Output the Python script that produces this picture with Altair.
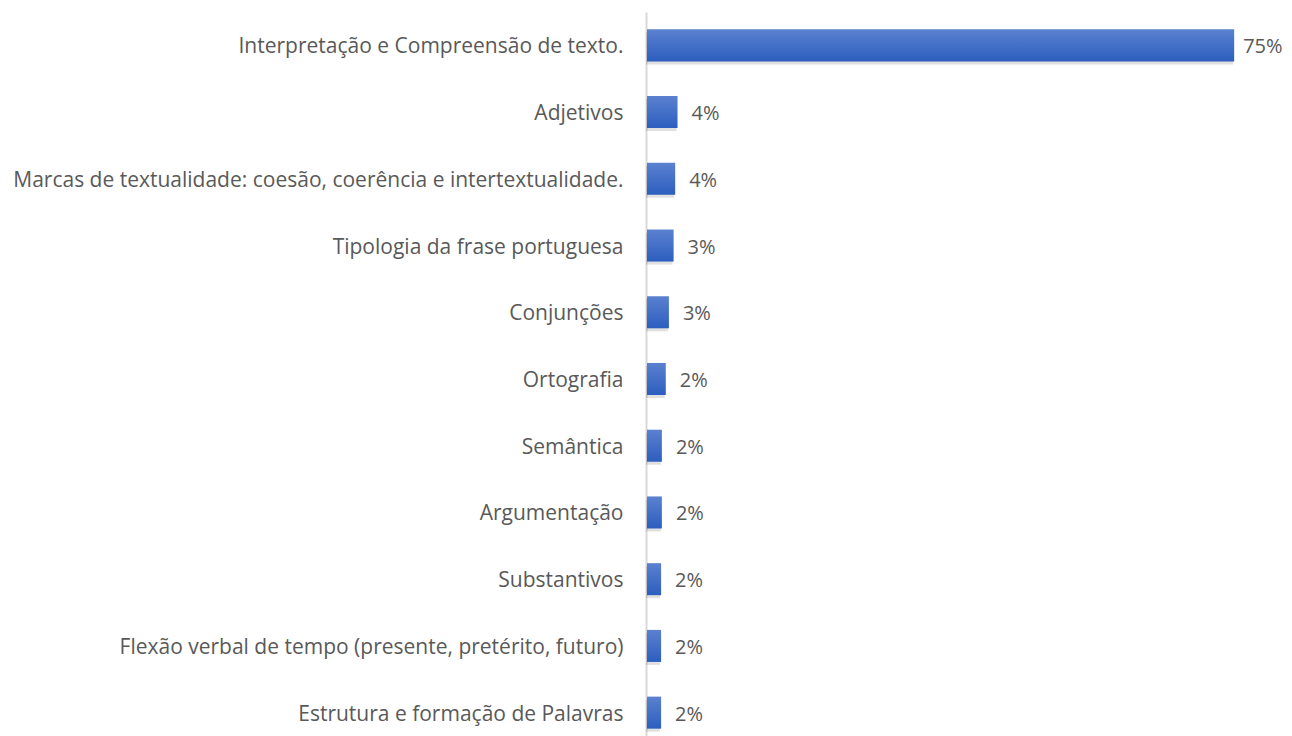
import altair as alt
import pandas as pd

categories = [
    "Interpretação e Compreensão de texto.",
    "Adjetivos",
    "Marcas de textualidade: coesão, coerência e intertextualidade.",
    "Tipologia da frase portuguesa",
    "Conjunções",
    "Ortografia",
    "Semântica",
    "Argumentação",
    "Substantivos",
    "Flexão verbal de tempo (presente, pretérito, futuro)",
    "Estrutura e formação de Palavras",
]
values = [75.0, 3.9, 3.6, 3.4, 2.8, 2.4, 1.9, 1.9, 1.8, 1.8, 1.8]
labels = ["75%", "4%", "4%", "3%", "3%", "2%", "2%", "2%", "2%", "2%", "2%"]

df = pd.DataFrame({"cat": categories, "val": values, "lab": labels})

FONT = "Open Sans"
TXT = "#595959"

y_scale = alt.Scale(range=[0, 734], paddingInner=0.52, paddingOuter=0.26)
y_enc = alt.Y(
    "cat:N",
    sort=categories,
    title=None,
    scale=y_scale,
    axis=alt.Axis(
        ticks=False,
        domainColor="#d9d9d9",
        domainWidth=2,
        labelFont=FONT,
        labelFontSize=21,
        labelColor=TXT,
        labelPadding=23,
        labelLimit=700,
        labelOffset=2,
    ),
)
x_enc = alt.X("val:Q", scale=alt.Scale(domain=[0, 76], nice=False), axis=None)

base = alt.Chart(df)

shadow = base.mark_bar(color="#000000", opacity=0.12, yOffset=3, x2Offset=2).encode(
    x=x_enc, y=y_enc
)

bars = base.mark_bar(
    color=alt.Gradient(
        gradient="linear",
        stops=[
            alt.GradientStop(color="#5b81d0", offset=0),
            alt.GradientStop(color="#2c5ebf", offset=1),
        ],
        x1=0, x2=0, y1=0, y2=1,
    ),
    xOffset=1,
    x2Offset=1,
).encode(x=x_enc, y=y_enc)

text_big = base.transform_filter(alt.datum.val >= 10).mark_text(
    align="left", dx=10, dy=2, font=FONT, fontSize=20, color=TXT
).encode(x=x_enc, y=y_enc, text="lab:N")

text_small = base.transform_filter(alt.datum.val < 10).mark_text(
    align="left", dx=15, dy=2, font=FONT, fontSize=20, color=TXT
).encode(x=x_enc, y=y_enc, text="lab:N")

chart = (
    alt.layer(shadow, bars, text_big, text_small)
    .properties(
        width=595,
        height=724,
        autosize=alt.AutoSizeParams(type="none"),
        padding={"left": 638, "top": 4, "right": 43, "bottom": 0},
    )
    .configure_view(stroke=None)
)

chart.save("out.html", embed_options={"renderer": "svg", "actions": False})
